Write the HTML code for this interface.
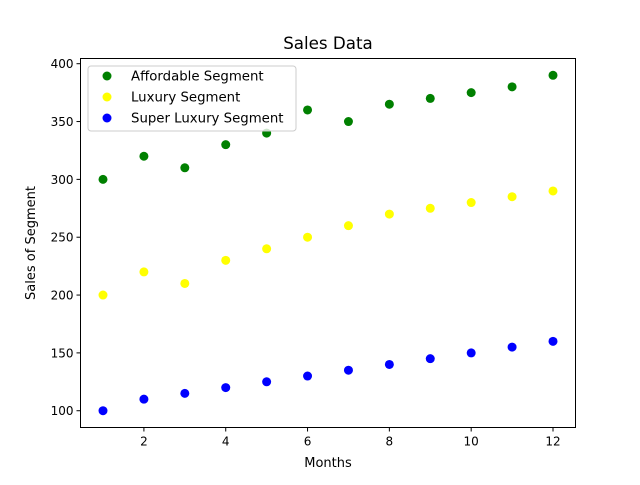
<!DOCTYPE html>
<html><head><meta charset="utf-8"><style>body{margin:0;background:#fff}svg{font-family:"DejaVu Sans","Liberation Sans",sans-serif}</style></head>
<body>
<svg id="chart" width="640" height="480" viewBox="0 0 640 480">
<rect x="0" y="0" width="640" height="480" fill="#fff"/>
<text x="328" y="49" font-size="16.7" text-anchor="middle">Sales Data</text>
<g id="marks"></g>
<g id="axes"></g>
<rect x="80.5" y="58.5" width="495" height="369" fill="none" stroke="#000" stroke-width="1"/>
<text x="328" y="467" font-size="13" text-anchor="middle">Months</text>
<text x="35" y="243" font-size="13" text-anchor="middle" transform="rotate(-90 35 243)">Sales of Segment</text>
<g id="legend">
<rect x="88" y="66" width="208" height="65" rx="3" fill="#fff" fill-opacity="0.8" stroke="#ccc"/>
</g>
</svg>
<script>
const months=[1,2,3,4,5,6,7,8,9,10,11,12];
const affordable=[300,320,310,330,340,360,350,365,370,375,380,390];
const luxury=[200,220,210,230,240,250,260,270,275,280,285,290];
const superLuxury=[100,110,115,120,125,130,135,140,145,150,155,160];
const xTicks=[2,4,6,8,10,12];
const yTicks=[100,150,200,250,300,350,400];
const seriesNames=["Affordable Segment","Luxury Segment","Super Luxury Segment"];
const colors=["green","yellow","blue"];
const ns="http://www.w3.org/2000/svg";
const L=80.5,R=575.5,T=58.5,B=427.5;
const xmin=0.45,xmax=12.55,ymin=85.5,ymax=404.5;
const xs=v=>L+(v-xmin)/(xmax-xmin)*(R-L);
const ys=v=>B-(v-ymin)/(ymax-ymin)*(B-T);
function mk(tag,attrs,parent){const e=document.createElementNS(ns,tag);for(const k in attrs)e.setAttribute(k,attrs[k]);parent.appendChild(e);return e;}
const marks=document.getElementById('marks');
[affordable,luxury,superLuxury].forEach((s,si)=>{
 s.forEach((v,i)=>{
  const c=mk('circle',{cx:xs(months[i]),cy:ys(v),r:4.5,fill:colors[si]},marks);
  
  
 });
});
const axes=document.getElementById('axes');
xTicks.forEach(t=>{
 const x=xs(t);
 const l=mk('line',{x1:x,x2:x,y1:B,y2:B+4,stroke:'#000'},axes);
 
 
 const tx=mk('text',{x:x,y:B+18,'font-size':12,'text-anchor':'middle'},axes);
 tx.textContent=t;
 
 
});
yTicks.forEach(t=>{
 const y=ys(t);
 const l=mk('line',{x1:L-4,x2:L,y1:y,y2:y,stroke:'#000'},axes);
 
 
 const tx=mk('text',{x:L-7,y:y+4.5,'font-size':12,'text-anchor':'end'},axes);
 tx.textContent=t;
 
 
});
const lg=document.getElementById('legend');
seriesNames.forEach((n,i)=>{
 const y=76+i*21;
 const c=mk('circle',{cx:107,cy:y,r:4.5,fill:colors[i]},lg);
 
 
 const t=mk('text',{x:131,y:y+4.5,'font-size':13.3},lg);
 t.textContent=n;
 
 
});
</script>
</body></html>
